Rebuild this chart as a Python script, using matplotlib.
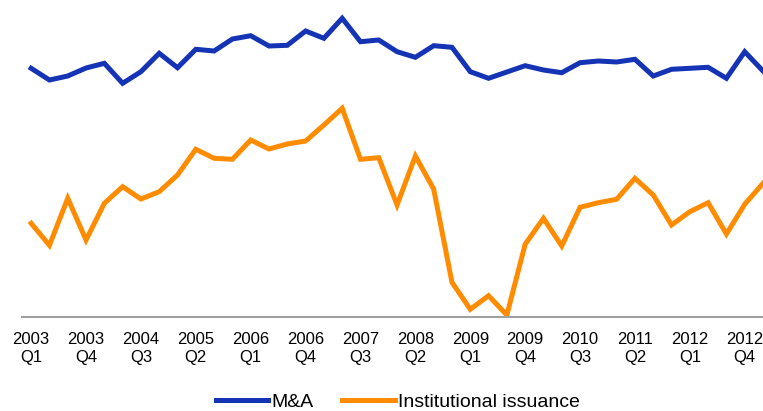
import numpy as np
import matplotlib
matplotlib.use("Agg")
import matplotlib.pyplot as plt

plt.rcParams['font.family'] = ['Liberation Sans', 'DejaVu Sans']

# quarters 2003 Q1 .. 2013 Q1
quarters = [f"{y}\nQ{q}" for y in range(2003, 2014) for q in range(1, 5)][:41]

# index values (no scale shown on the chart)
ma = [248.7, 237.0, 241.0, 249.0, 253.7, 233.7, 245.3, 263.7, 249.3, 267.7,
      266.0, 278.0, 281.3, 271.0, 271.7, 286.0, 278.7, 298.7, 275.3, 277.0,
      265.3, 259.7, 271.3, 269.7, 245.3, 238.7, 245.0, 251.3, 247.0, 244.3,
      254.3, 256.0, 255.0, 257.7, 241.0, 247.7, 248.7, 249.7, 238.7, 265.3,
      246.0]
inst = [93.7, 71.7, 118.7, 77.0, 113.7, 130.3, 118.0, 125.3, 142.0, 167.7,
        158.7, 157.7, 177.0, 168.0, 173.0, 176.0, 192.0, 208.7, 157.7, 159.3,
        112.0, 161.0, 128.0, 34.7, 7.7, 21.3, 2.0, 72.7, 98.7, 71.0,
        109.7, 114.3, 117.7, 138.7, 122.0, 92.0, 105.3, 114.3, 83.0, 112.7,
        133.7]

x = np.arange(len(quarters))

fig = plt.figure(figsize=(7.63, 4.11), dpi=100)
ax = fig.add_axes([22 / 763, 1 - 317 / 411, 741 / 763, 317 / 411])

ax.plot(x, ma, color='#1533B5', lw=3.6, label='M&A', solid_joinstyle='miter')
ax.plot(x, inst, color='#FF8C00', lw=3.6, label='Institutional issuance',
        solid_joinstyle='miter')

ax.set_xlim(-0.5, 40.0)
ax.set_ylim(0, 317)

ax.set_xticks(x[::3])
ax.set_xticklabels(quarters[::3], fontsize=12, linespacing=1.3)
ax.tick_params(axis='x', length=0, pad=10.5)
ax.set_yticks([])

for s in ['top', 'right', 'left']:
    ax.spines[s].set_visible(False)
ax.spines['bottom'].set_color('#A0A0A0')
ax.spines['bottom'].set_linewidth(1.5)

fig.legend(loc='center', bbox_to_anchor=(397.5 / 763, 1 - 402 / 411), ncol=2,
           frameon=False, fontsize=14, handlelength=2.7, handletextpad=0.15,
           columnspacing=1.5, borderpad=0)

fig.savefig('out.png', dpi=100)
